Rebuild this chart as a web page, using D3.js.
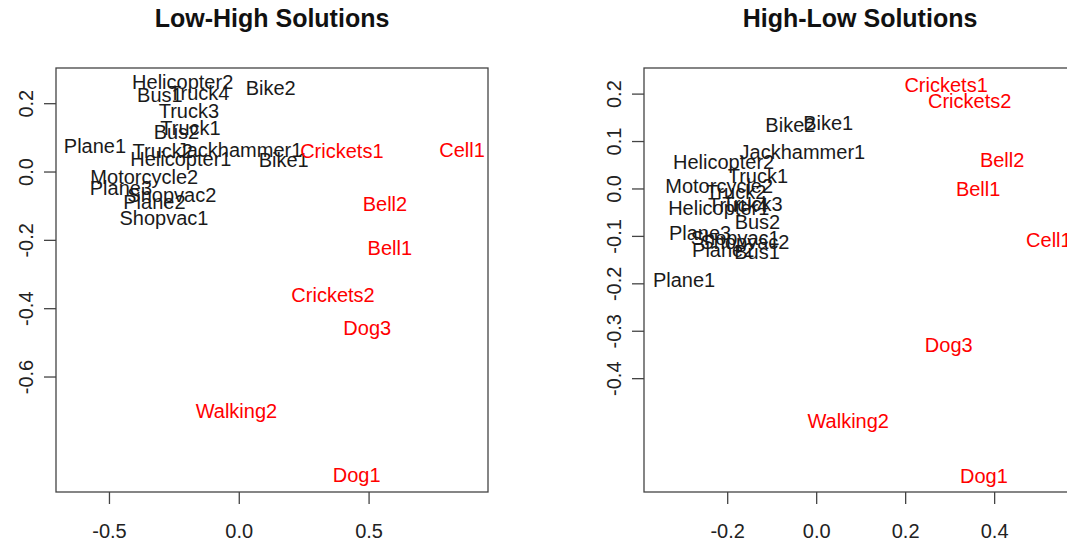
<!DOCTYPE html>
<html>
<head>
<meta charset="utf-8">
<script src="https://cdn.jsdelivr.net/npm/d3@7"></script>
<style>
  html, body { margin: 0; padding: 0; background: #fff; }
  svg { display: block; font-family: "Liberation Sans", Arial, sans-serif; }
</style>
</head>
<body>
<svg id="chart" width="1067" height="546"></svg>
<script>
// Sound labels (same order in every coordinate array below)
const sounds = ["Helicopter1", "Helicopter2", "Bus1", "Bus2", "Truck1", "Truck2", "Truck3", "Truck4",
  "Bike1", "Bike2", "Jackhammer1", "Plane1", "Plane2", "Plane3", "Motorcycle2", "Shopvac1", "Shopvac2",
  "Crickets1", "Crickets2", "Cell1", "Bell1", "Bell2", "Dog1", "Dog3", "Walking2"];

// Natural sounds are drawn in red, machine sounds in black
const naturalSounds = ["Crickets1", "Crickets2", "Cell1", "Bell1", "Bell2", "Dog1", "Dog3", "Walking2"];

// Low-High solution coordinates
const lowHighX = [-0.223, -0.216, -0.304, -0.240, -0.186, -0.293, -0.192, -0.152,
  0.173, 0.123, 0.003, -0.554, -0.325, -0.454, -0.364, -0.288, -0.258,
  0.397, 0.363, 0.860, 0.582, 0.563, 0.454, 0.495, -0.009];
const lowHighY = [0.037, 0.263, 0.224, 0.117, 0.127, 0.061, 0.176, 0.230,
  0.033, 0.245, 0.064, 0.075, -0.088, -0.048, -0.015, -0.135, -0.068,
  0.059, -0.361, 0.064, -0.224, -0.095, -0.888, -0.458, -0.700];

// High-Low solution coordinates
const highLowX = [-0.219, -0.208, -0.133, -0.132, -0.131, -0.180, -0.143, -0.175,
  0.027, -0.058, -0.031, -0.297, -0.209, -0.261, -0.218, -0.182, -0.160,
  0.292, 0.345, 0.523, 0.364, 0.418, 0.377, 0.298, 0.072];
const highLowY = [-0.042, 0.056, -0.134, -0.071, 0.026, -0.008, -0.032, -0.035,
  0.137, 0.134, 0.077, -0.194, -0.130, -0.094, 0.005, -0.104, -0.113,
  0.218, 0.185, -0.109, -0.002, 0.061, -0.606, -0.331, -0.491];

// Axis ticks
const lowHighXTicks = [-0.5, 0.0, 0.5];
const lowHighYTicks = [-0.6, -0.4, -0.2, 0.0, 0.2];
const highLowXTicks = [-0.2, 0.0, 0.2, 0.4];
const highLowYTicks = [-0.4, -0.3, -0.2, -0.1, 0.0, 0.1, 0.2];

const svg = d3.select("#chart");
// one decimal, plain hyphen for negatives
const fmt = d => d.toFixed(1);

function panel(opts) {
  const { title, xs, ys, xDomain, yDomain, left, top, width, height, xTicks, yTicks } = opts;
  const x = d3.scaleLinear().domain(xDomain).range([left, left + width]);
  const y = d3.scaleLinear().domain(yDomain).range([top, top + height]);
  const g = svg.append("g");

  // bottom axis
  const xAxis = g.append("g")
    .attr("transform", `translate(0,${top + height})`)
    .call(d3.axisBottom(x).tickValues(xTicks).tickFormat(fmt).tickSize(12).tickPadding(20).tickSizeOuter(0));
  xAxis.select(".domain").remove();

  // left axis with rotated labels
  const yAxis = g.append("g")
    .attr("transform", `translate(${left},0)`)
    .call(d3.axisLeft(y).tickValues(yTicks).tickFormat(fmt).tickSize(12).tickSizeOuter(0));
  yAxis.select(".domain").remove();
  yAxis.selectAll("text")
    .attr("x", null).attr("dy", null)
    .attr("text-anchor", "middle")
    .attr("transform", "translate(-23,0) rotate(-90)");

  g.selectAll(".tick line").attr("stroke", "#444").attr("stroke-width", 1.3);
  g.selectAll(".tick text").attr("fill", "#222").style("font-size", "20px")
    .style("font-family", "'Liberation Sans', Arial, sans-serif");

  // plot frame
  g.append("rect")
    .attr("x", left).attr("y", top).attr("width", width).attr("height", height)
    .attr("fill", "none").attr("stroke", "#444").attr("stroke-width", 1.3);

  // point labels
  g.append("g").selectAll("text")
    .data(sounds)
    .join("text")
    .attr("x", (d, i) => x(xs[i]))
    .attr("y", (d, i) => y(ys[i]))
    .attr("dy", "0.35em")
    .attr("text-anchor", "middle")
    .attr("fill", d => naturalSounds.includes(d) ? "#ff0000" : "#1a1a1a")
    .style("font-size", "20px")
    .text(d => d);

  // title
  g.append("text")
    .attr("x", left + width / 2)
    .attr("y", 27)
    .attr("text-anchor", "middle")
    .attr("fill", "#111")
    .style("font-size", "25px")
    .style("font-weight", "bold")
    .text(title);
}

panel({
  title: "Low-High Solutions",
  xs: lowHighX, ys: lowHighY,
  xDomain: [-0.704, 0.960], yDomain: [0.303, -0.938],
  left: 56, top: 68, width: 432, height: 424,
  xTicks: lowHighXTicks, yTicks: lowHighYTicks
});

panel({
  title: "High-Low Solutions",
  xs: highLowX, ys: highLowY,
  xDomain: [-0.387, 0.584], yDomain: [0.254, -0.640],
  left: 644, top: 68, width: 432, height: 424,
  xTicks: highLowXTicks, yTicks: highLowYTicks
});
</script>
</body>
</html>
